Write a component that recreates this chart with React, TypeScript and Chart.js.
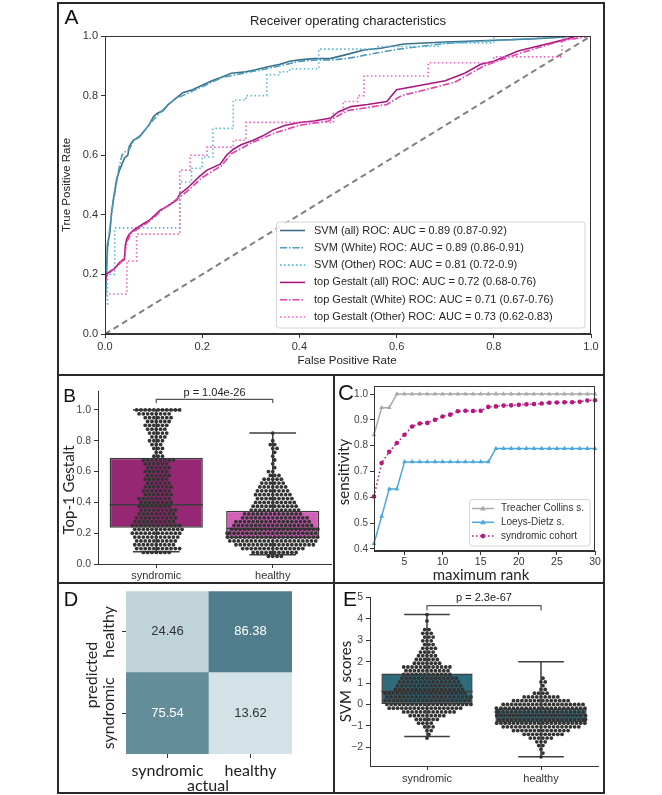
import React, { useEffect, useRef } from 'react';
import { Chart, registerables } from 'chart.js';

Chart.register(...registerables);

const SANS = '"Liberation Sans", Arial, sans-serif';
const HUM = 'Lato, "Liberation Sans", sans-serif';
Chart.defaults.font.family = SANS;

type Pt = [number, number];
type Bin = [number, number];

/* ---------------- Panel A : ROC curves (fpr, tpr) ---------------- */
const rocSvmAll: Pt[] = [[0,0],[0,0.09],[0.003,0.2],[0.005,0.3],[0.01,0.34],[0.013,0.4],[0.017,0.45],[0.02,0.48],[0.024,0.52],[0.03,0.55],[0.035,0.57],[0.04,0.59],[0.047,0.6],[0.05,0.63],[0.058,0.65],[0.07,0.66],[0.08,0.68],[0.09,0.7],[0.1,0.73],[0.107,0.74],[0.12,0.75],[0.13,0.77],[0.145,0.79],[0.16,0.81],[0.18,0.82],[0.2,0.835],[0.22,0.85],[0.237,0.86],[0.26,0.875],[0.29,0.88],[0.31,0.887],[0.333,0.896],[0.36,0.905],[0.38,0.915],[0.4,0.92],[0.43,0.924],[0.465,0.925],[0.49,0.935],[0.533,0.953],[0.57,0.96],[0.615,0.973],[0.7,0.98],[0.774,0.984],[0.877,0.99],[0.93,0.995],[0.96,1],[1,1]];
const rocSvmWhite: Pt[] = [[0,0],[0,0.1],[0.004,0.25],[0.008,0.33],[0.015,0.42],[0.02,0.47],[0.028,0.55],[0.035,0.6],[0.04,0.61],[0.05,0.62],[0.06,0.65],[0.075,0.67],[0.09,0.7],[0.1,0.72],[0.115,0.745],[0.13,0.77],[0.145,0.79],[0.16,0.8],[0.18,0.815],[0.2,0.83],[0.22,0.845],[0.24,0.86],[0.27,0.87],[0.3,0.88],[0.333,0.89],[0.36,0.9],[0.4,0.915],[0.44,0.92],[0.47,0.92],[0.5,0.925],[0.55,0.94],[0.6,0.955],[0.65,0.965],[0.7,0.975],[0.8,0.985],[0.9,0.993],[0.97,1],[1,1]];
const rocSvmOther: Pt[] = [[0,0],[0,0.1],[0.005,0.1],[0.005,0.2],[0.02,0.2],[0.02,0.356],[0.154,0.356],[0.154,0.51],[0.178,0.51],[0.178,0.556],[0.2,0.556],[0.2,0.594],[0.222,0.594],[0.222,0.69],[0.264,0.69],[0.264,0.785],[0.29,0.785],[0.29,0.8],[0.333,0.8],[0.333,0.87],[0.36,0.87],[0.36,0.88],[0.38,0.88],[0.38,0.89],[0.44,0.89],[0.44,0.956],[0.56,0.956],[0.56,0.965],[0.69,0.965],[0.69,0.977],[0.8,0.977],[0.8,1],[1,1]];
const rocGestaltAll: Pt[] = [[0,0],[0,0.18],[0.003,0.2],[0.01,0.21],[0.02,0.22],[0.03,0.24],[0.04,0.25],[0.042,0.3],[0.045,0.32],[0.05,0.335],[0.06,0.35],[0.079,0.37],[0.09,0.38],[0.1,0.395],[0.113,0.415],[0.13,0.43],[0.148,0.45],[0.154,0.47],[0.17,0.49],[0.195,0.53],[0.21,0.55],[0.237,0.57],[0.25,0.6],[0.264,0.62],[0.28,0.635],[0.305,0.65],[0.325,0.665],[0.346,0.685],[0.37,0.7],[0.4,0.71],[0.43,0.715],[0.465,0.725],[0.48,0.745],[0.506,0.763],[0.54,0.77],[0.58,0.78],[0.59,0.8],[0.6,0.82],[0.65,0.835],[0.7,0.85],[0.74,0.875],[0.773,0.905],[0.8,0.915],[0.85,0.95],[0.9,0.97],[0.944,0.987],[0.97,1],[1,1]];
const rocGestaltWhite: Pt[] = [[0,0],[0,0.17],[0.005,0.2],[0.02,0.22],[0.03,0.235],[0.04,0.26],[0.045,0.31],[0.055,0.34],[0.08,0.365],[0.1,0.39],[0.12,0.42],[0.15,0.455],[0.17,0.48],[0.2,0.525],[0.24,0.565],[0.26,0.605],[0.3,0.64],[0.35,0.675],[0.4,0.7],[0.46,0.715],[0.5,0.75],[0.58,0.77],[0.61,0.8],[0.66,0.82],[0.72,0.845],[0.78,0.9],[0.85,0.94],[0.92,0.975],[0.96,0.99],[1,1]];
const rocGestaltOther: Pt[] = [[0,0],[0,0.134],[0.045,0.134],[0.045,0.245],[0.065,0.245],[0.065,0.335],[0.154,0.335],[0.154,0.55],[0.175,0.55],[0.175,0.6],[0.21,0.6],[0.21,0.627],[0.264,0.627],[0.264,0.65],[0.29,0.65],[0.29,0.71],[0.47,0.71],[0.47,0.74],[0.49,0.74],[0.49,0.78],[0.52,0.78],[0.52,0.8],[0.533,0.8],[0.533,0.866],[0.665,0.866],[0.665,0.91],[0.8,0.91],[0.8,0.93],[0.94,0.93],[0.94,0.99],[0.97,0.99],[0.97,1],[1,1]];
const rocChance: Pt[] = [[0, 0], [1, 1]];
const rocLabels = [
  'SVM (all) ROC: AUC = 0.89 (0.87-0.92)',
  'SVM (White) ROC: AUC = 0.89 (0.86-0.91)',
  'SVM (Other) ROC: AUC = 0.81 (0.72-0.9)',
  'top Gestalt (all) ROC: AUC = 0.72 (0.68-0.76)',
  'top Gestalt (White) ROC: AUC = 0.71 (0.67-0.76)',
  'top Gestalt (Other) ROC: AUC = 0.73 (0.62-0.83)',
];
const rocTicks = [0, 0.2, 0.4, 0.6, 0.8, 1.0];

/* ---------------- Panel B : Top-1 Gestalt box + swarm ---------------- */
const groupNames = ['syndromic', 'healthy'];
const bQ1 = [0.235, 0.165];
const bMedian = [0.385, 0.23];
const bQ3 = [0.69, 0.345];
const bLow = [0.08, 0.06];
const bHigh = [1.0, 0.85];
const bTicks = [0, 0.2, 0.4, 0.6, 0.8, 1.0];
const bPText = 'p = 1.04e-26';
// [value, number of points]
const bSyndromicBins: Bin[] = [[1.0,11],[0.975,8],[0.95,7],[0.925,6],[0.9,6],[0.875,5],[0.85,5],[0.825,4],[0.8,4],[0.775,3],[0.75,3],[0.725,2],[0.7,3],[0.675,8],[0.65,6],[0.625,6],[0.6,6],[0.575,6],[0.55,6],[0.525,6],[0.5,7],[0.475,7],[0.45,7],[0.425,8],[0.4,8],[0.375,8],[0.35,9],[0.325,9],[0.3,10],[0.275,10],[0.25,12],[0.225,12],[0.2,12],[0.175,11],[0.15,10],[0.125,10],[0.1,11],[0.075,7]];
const bHealthyBins: Bin[] = [[0.85,1],[0.8,1],[0.775,2],[0.75,2],[0.725,1],[0.7,1],[0.675,1],[0.65,1],[0.625,1],[0.6,2],[0.575,3],[0.55,5],[0.525,6],[0.5,7],[0.475,8],[0.45,9],[0.425,9],[0.4,10],[0.375,11],[0.35,12],[0.325,14],[0.3,16],[0.275,18],[0.25,19],[0.225,21],[0.2,22],[0.175,22],[0.15,21],[0.125,19],[0.1,15],[0.075,11],[0.05,4]];

/* ---------------- Panel C : sensitivity by maximum rank ---------------- */
const cRanks = [1,2,3,4,5,6,7,8,9,10,11,12,13,14,15,16,17,18,19,20,21,22,23,24,25,26,27,28,29,30];
const cTreacher = [0.842,0.947,0.947,1,1,1,1,1,1,1,1,1,1,1,1,1,1,1,1,1,1,1,1,1,1,1,1,1,1,1];
const cLoeys = [0.421,0.526,0.632,0.632,0.737,0.737,0.737,0.737,0.737,0.737,0.737,0.737,0.737,0.737,0.737,0.737,0.789,0.789,0.789,0.789,0.789,0.789,0.789,0.789,0.789,0.789,0.789,0.789,0.789,0.789];
const cCohort = [0.603,0.733,0.776,0.81,0.842,0.874,0.886,0.888,0.9,0.913,0.92,0.933,0.935,0.934,0.935,0.95,0.952,0.955,0.956,0.958,0.96,0.961,0.963,0.966,0.967,0.968,0.968,0.97,0.975,0.976];
const cLabels = ['Treacher Collins s.', 'Loeys-Dietz s.', 'syndromic cohort'];
const cXTicks = [5, 10, 15, 20, 25, 30];
const cYTicks = [0.4, 0.5, 0.6, 0.7, 0.8, 0.9, 1.0];

/* ---------------- Panel D : confusion matrix (%) ---------------- */
const dActual = ['syndromic', 'healthy'];
const dPredicted = ['syndromic', 'healthy']; // bottom row, top row
const dPredSyndromic = [75.54, 13.62];
const dPredHealthy = [24.46, 86.38];

/* ---------------- Panel E : SVM scores box + swarm ---------------- */
const eQ1 = [0.0, -0.85];
const eMedian = [0.6, -0.5];
const eQ3 = [1.45, -0.2];
const eLow = [-1.5, -2.45];
const eHigh = [4.2, 2.0];
const eTicks = [-2, -1, 0, 1, 2, 3, 4, 5];
const ePText = 'p = 2.3e-67';
const eSyndromicBins: Bin[] = [[4.2,1],[3.9,1],[3.5,2],[3.325,3],[3.15,3],[2.975,3],[2.8,3],[2.625,4],[2.45,4],[2.275,5],[2.1,6],[1.925,7],[1.75,12],[1.575,11],[1.4,12],[1.225,14],[1.05,15],[0.875,16],[0.7,17],[0.525,20],[0.35,21],[0.175,21],[0.0,21],[-0.175,18],[-0.35,13],[-0.525,9],[-0.7,6],[-0.875,4],[-1.05,3],[-1.225,2],[-1.4,1],[-1.575,1]];
const eHealthyBins: Bin[] = [[1.225,1],[1.05,2],[0.875,1],[0.7,2],[0.525,4],[0.35,9],[0.175,14],[0.0,20],[-0.175,22],[-0.35,22],[-0.525,22],[-0.7,22],[-0.875,22],[-1.05,19],[-1.225,14],[-1.4,10],[-1.575,6],[-1.75,3],[-1.925,2],[-2.1,1],[-2.275,1],[-2.45,1]];

/* ---------------- helpers ---------------- */
function drawText(ctx: any, t: string, x: number, y: number, font: string, color = '#222', rot = 0, align = 'center') {
  ctx.save();
  ctx.translate(x, y);
  if (rot) ctx.rotate(rot);
  ctx.font = font;
  ctx.fillStyle = color;
  ctx.textAlign = align;
  ctx.textBaseline = 'middle';
  ctx.fillText(t, 0, 0);
  ctx.restore();
}

function line(ctx: any, x1: number, y1: number, x2: number, y2: number) {
  ctx.beginPath();
  ctx.moveTo(x1, y1);
  ctx.lineTo(x2, y2);
  ctx.stroke();
}

function roundBox(ctx: any, x: number, y: number, w: number, h: number, r: number) {
  ctx.beginPath();
  ctx.moveTo(x + r, y);
  ctx.lineTo(x + w - r, y);
  ctx.arcTo(x + w, y, x + w, y + r, r);
  ctx.lineTo(x + w, y + h - r);
  ctx.arcTo(x + w, y + h, x + w - r, y + h, r);
  ctx.lineTo(x + r, y + h);
  ctx.arcTo(x, y + h, x, y + h - r, r);
  ctx.lineTo(x, y + r);
  ctx.arcTo(x, y, x + r, y, r);
  ctx.closePath();
}

function frameRect(ctx: any, ca: any) {
  ctx.save();
  ctx.strokeStyle = '#333';
  ctx.lineWidth = 1;
  ctx.strokeRect(Math.round(ca.left) + 0.5, Math.round(ca.top) + 0.5, Math.round(ca.right - ca.left) - 1, Math.round(ca.bottom - ca.top) - 1);
  ctx.restore();
}

function expandBins(bins: Bin[]) {
  const out: number[] = [];
  bins.forEach(([v, n]) => { for (let i = 0; i < n; i++) out.push(v); });
  return out;
}

function beeswarm(values: number[], center: number, xs: any, ys: any, d: number, maxHalf: number) {
  const cx = xs.getPixelForValue(center);
  const sorted = [...values].sort((a, b) => a - b);
  const placed: { x: number; y: number }[] = [];
  const out: { x: number; y: number }[] = [];
  for (const v of sorted) {
    const py = ys.getPixelForValue(v);
    const near = placed.filter((p) => Math.abs(p.y - py) < d);
    const cands = [0];
    for (const p of near) {
      const dy = p.y - py;
      const dx = Math.sqrt(Math.max(d * d - dy * dy, 0));
      cands.push(p.x + dx, p.x - dx);
    }
    cands.sort((a, b) => Math.abs(a) - Math.abs(b));
    let chosen = cands[cands.length - 1];
    for (const c of cands) {
      if (near.every((p) => (p.x - c) * (p.x - c) + (p.y - py) * (p.y - py) >= d * d - 1e-6)) { chosen = c; break; }
    }
    if (chosen > maxHalf) chosen = maxHalf;
    if (chosen < -maxHalf) chosen = -maxHalf;
    placed.push({ x: chosen, y: py });
    out.push({ x: xs.getValueForPixel(cx + chosen), y: v });
  }
  return out;
}

const tickGrid = { drawOnChartArea: false, drawTicks: true, tickLength: 4, color: '#333', lineWidth: 1 };
const axisBorder = { display: true, color: '#333', width: 1 };
const baseOpts = { responsive: false, animation: false as const, devicePixelRatio: 1, events: [] as any[] };
const noPlugins = { legend: { display: false }, tooltip: { enabled: false } };

/* ---------------- Panel A ---------------- */
const rocSeries = [rocSvmAll, rocSvmWhite, rocSvmOther, rocGestaltAll, rocGestaltWhite, rocGestaltOther];
const rocColors = ['#3b7089', '#4e9cbc', '#5bb6d6', '#a6197e', '#e040a9', '#f25cc6'];
const rocDashes = [[], [7, 2, 1.5, 2], [1.5, 2.5], [], [7, 2, 1.5, 2], [1.5, 2.5]];

function buildA(canvas: HTMLCanvasElement) {
  const datasets: any[] = rocSeries.map((s, i) => ({
    label: rocLabels[i],
    data: s.map(([x, y]) => ({ x, y })),
    borderColor: rocColors[i],
    borderDash: rocDashes[i],
    borderWidth: 1.6,
    pointRadius: 0,
    fill: false,
    tension: 0,
    order: -i,
  }));
  datasets.push({
    label: 'chance',
    data: rocChance.map(([x, y]) => ({ x, y })),
    borderColor: '#808080',
    borderDash: [6, 4],
    borderWidth: 2,
    pointRadius: 0,
    order: 5,
  });
  return new Chart(canvas, {
    type: 'line',
    data: { datasets },
    options: {
      ...baseOpts,
      layout: { padding: { left: 0, top: 32, right: 12, bottom: 0 } },
      plugins: noPlugins,
      scales: {
        x: {
          type: 'linear', min: 0, max: 1,
          afterBuildTicks: (s: any) => { s.ticks = rocTicks.map((v) => ({ value: v })); },
          afterFit: (s: any) => { s.height = 40; },
          ticks: { font: { size: 11 }, color: '#333', padding: 2.5, autoSkip: false, maxRotation: 0, callback: (v: any) => Number(v).toFixed(1) },
          grid: tickGrid, border: axisBorder,
        },
        y: {
          type: 'linear', min: 0, max: 1,
          afterBuildTicks: (s: any) => { s.ticks = rocTicks.map((v) => ({ value: v })); },
          afterFit: (s: any) => { s.width = 46; },
          ticks: { font: { size: 11 }, color: '#333', padding: 3, autoSkip: false, callback: (v: any) => Number(v).toFixed(1) },
          grid: tickGrid, border: axisBorder,
        },
      },
    } as any,
    plugins: [{
      id: 'decorA',
      afterDatasetsDraw(chart: any) {
        const { ctx } = chart;
        frameRect(ctx, chart.chartArea);
        ctx.save();
        roundBox(ctx, 217.5, 218, 308.5, 106, 3);
        ctx.fillStyle = 'rgba(255,255,255,0.88)';
        ctx.fill();
        ctx.strokeStyle = '#d4d4d4';
        ctx.lineWidth = 1;
        ctx.stroke();
        for (let i = 0; i < rocLabels.length; i++) {
          const y = 226.5 + i * 17.3;
          ctx.strokeStyle = rocColors[i];
          ctx.lineWidth = 1.6;
          ctx.setLineDash(rocDashes[i]);
          line(ctx, 221, y, 246, y);
          ctx.setLineDash([]);
          drawText(ctx, rocLabels[i], 255, y, '11px ' + SANS, '#262626', 0, 'left');
        }
        ctx.restore();
      },
      afterDraw(chart: any) {
        const { ctx } = chart;
        drawText(ctx, 'A', 12.5, 14, '21px ' + SANS, '#111');
        drawText(ctx, 'Receiver operating characteristics', 289, 17, '13px ' + SANS, '#222');
        drawText(ctx, 'False Positive Rate', 288, 357, '11.5px ' + SANS, '#222');
        drawText(ctx, 'True Positive Rate', 8, 181, '11.5px ' + SANS, '#222', -Math.PI / 2);
      },
    }],
  });
}

/* ---------------- Panels B & E (box + swarm) ---------------- */
function buildBoxSwarm(canvas: HTMLCanvasElement, p: any) {
  const chart: any = new Chart(canvas, {
    type: 'bar',
    data: {
      datasets: [
        {
          type: 'bar',
          label: 'box',
          data: groupNames.map((_, i) => ({ x: i, y: [p.q1[i], p.q3[i]] })),
          backgroundColor: p.colors,
          borderColor: '#3d3d3d',
          borderWidth: 1.5,
          borderSkipped: false,
          categoryPercentage: 1,
          barPercentage: 0.8,
          order: 2,
        },
        { type: 'scatter', label: groupNames[0], data: [], backgroundColor: '#333', pointRadius: 1.9, pointBorderWidth: 0, order: 1, clip: false },
        { type: 'scatter', label: groupNames[1], data: [], backgroundColor: '#333', pointRadius: 1.9, pointBorderWidth: 0, order: 1, clip: false },
      ],
    },
    options: {
      ...baseOpts,
      layout: { padding: { left: 0, top: p.padTop, right: p.padRight, bottom: 0 } },
      plugins: noPlugins,
      scales: {
        x: {
          type: 'linear', min: -0.5, max: 1.5, offset: false,
          afterBuildTicks: (s: any) => { s.ticks = groupNames.map((_, i) => ({ value: i })); },
          afterFit: (s: any) => { s.height = p.xHeight; },
          ticks: { font: { size: 11 }, color: '#333', padding: p.xTickPad, autoSkip: false, maxRotation: 0, callback: (v: any) => groupNames[v] },
          grid: { ...tickGrid, offset: false }, border: axisBorder,
        },
        y: {
          type: 'linear', min: p.yMin, max: p.yMax,
          afterBuildTicks: (s: any) => { s.ticks = p.yTicks.map((v: number) => ({ value: v })); },
          afterFit: (s: any) => { s.width = p.yWidth; },
          ticks: { font: { size: 10.5 }, color: '#444', padding: 3, autoSkip: false, callback: p.yFmt },
          grid: tickGrid, border: axisBorder,
        },
      },
    } as any,
    plugins: [{
      id: 'boxParts',
      afterDatasetDraw(ch: any, args: any) {
        if (args.index !== 0) return;
        const { ctx } = ch;
        const ys = ch.scales.y;
        const meta = ch.getDatasetMeta(0);
        ctx.save();
        ctx.strokeStyle = '#3d3d3d';
        ctx.lineWidth = 1.5;
        meta.data.forEach((el: any, i: number) => {
          const cx = el.x;
          const half = el.width / 2;
          line(ctx, cx - half, ys.getPixelForValue(p.med[i]), cx + half, ys.getPixelForValue(p.med[i]));
          line(ctx, cx, ys.getPixelForValue(p.q3[i]), cx, ys.getPixelForValue(p.hi[i]));
          line(ctx, cx, ys.getPixelForValue(p.q1[i]), cx, ys.getPixelForValue(p.lo[i]));
          line(ctx, cx - half / 2, ys.getPixelForValue(p.hi[i]), cx + half / 2, ys.getPixelForValue(p.hi[i]));
          line(ctx, cx - half / 2, ys.getPixelForValue(p.lo[i]), cx + half / 2, ys.getPixelForValue(p.lo[i]));
        });
        ctx.restore();
      },
      afterDraw(ch: any) {
        const { ctx } = ch;
        const xs = ch.scales.x;
        const ys = ch.scales.y;
        const x0 = xs.getPixelForValue(0);
        const x1 = xs.getPixelForValue(1);
        const yt = ys.getPixelForValue(p.bracketTop);
        const yb = ys.getPixelForValue(p.bracketEnd);
        ctx.save();
        ctx.strokeStyle = '#555';
        ctx.lineWidth = 1.2;
        ctx.beginPath();
        ctx.moveTo(x0, yb);
        ctx.lineTo(x0, yt);
        ctx.lineTo(x1, yt);
        ctx.lineTo(x1, yb);
        ctx.stroke();
        ctx.restore();
        drawText(ctx, p.pText, (x0 + x1) / 2, yt - p.pGap, '11px ' + SANS, '#222');
        drawText(ctx, p.letter, p.letterX, p.letterY, p.letterFont, '#111');
        drawText(ctx, p.yTitle, p.yTitleX, p.yTitleY, p.yTitleFont, '#222', -Math.PI / 2);
      },
    }],
  });
  const xs = chart.scales.x;
  const ys = chart.scales.y;
  const meta = chart.getDatasetMeta(0);
  const maxHalf = meta.data[0] ? meta.data[0].width / 2 - 1 : 45;
  chart.data.datasets[1].data = beeswarm(expandBins(p.bins[0]), 0, xs, ys, p.dotGap, maxHalf);
  chart.data.datasets[2].data = beeswarm(expandBins(p.bins[1]), 1, xs, ys, p.dotGap, maxHalf);
  chart.update();
  return chart;
}

function buildB(canvas: HTMLCanvasElement) {
  return buildBoxSwarm(canvas, {
    q1: bQ1, med: bMedian, q3: bQ3, lo: bLow, hi: bHigh,
    colors: ['#962873', '#d25fb8'],
    bins: [bSyndromicBins, bHealthyBins], dotGap: 4.3,
    yMin: 0, yMax: 1.123, yTicks: bTicks, yFmt: (v: any) => Number(v).toFixed(1),
    padTop: 15, padRight: 8, yWidth: 39, xHeight: 18, xTickPad: 1.5,
    bracketTop: 1.068, bracketEnd: 1.045, pText: bPText, pGap: 7,
    letter: 'B', letterX: 10.5, letterY: 20.5, letterFont: '19px ' + SANS,
    yTitle: 'Top-1 Gestalt', yTitleX: 10, yTitleY: 114, yTitleFont: '15px ' + HUM,
  });
}

function buildE(canvas: HTMLCanvasElement) {
  return buildBoxSwarm(canvas, {
    q1: eQ1, med: eMedian, q3: eQ3, lo: eLow, hi: eHigh,
    colors: ['#2e6b7b', '#3a7888'],
    bins: [eSyndromicBins, eHealthyBins], dotGap: 4.2,
    yMin: -2.88, yMax: 5, yTicks: eTicks, yFmt: (v: any) => (Number(v) < 0 ? '\u2212' + Math.abs(Number(v)) : String(v)),
    padTop: 13.5, padRight: 7, yWidth: 35, xHeight: 26, xTickPad: 2,
    bracketTop: 4.62, bracketEnd: 4.39, pText: ePText, pGap: 7.5,
    letter: 'E', letterX: 15, letterY: 16, letterFont: '21px ' + SANS,
    yTitle: 'SVM  scores', yTitleX: 11, yTitleY: 97.5, yTitleFont: '15px ' + HUM,
  });
}

/* ---------------- Panel C ---------------- */
const cColors = ['#a9a9a9', '#4aa6dc', '#b3197f'];
const cStyles = ['triangle', 'triangle', 'circle'];
const cDashes = [[], [], [1.5, 2.5]];

function drawMarker(ctx: any, style: string, x: number, y: number, r: number, color: string) {
  ctx.save();
  ctx.fillStyle = color;
  ctx.beginPath();
  if (style === 'triangle') {
    ctx.moveTo(x, y - r * 1.1);
    ctx.lineTo(x + r, y + r * 0.7);
    ctx.lineTo(x - r, y + r * 0.7);
    ctx.closePath();
  } else {
    ctx.arc(x, y, r, 0, Math.PI * 2);
  }
  ctx.fill();
  ctx.restore();
}

function buildC(canvas: HTMLCanvasElement) {
  const series = [cTreacher, cLoeys, cCohort];
  return new Chart(canvas, {
    type: 'line',
    data: {
      datasets: series.map((s, k) => ({
        label: cLabels[k],
        data: cRanks.map((r, i) => ({ x: r, y: s[i] })),
        borderColor: cColors[k],
        backgroundColor: cColors[k],
        borderDash: cDashes[k],
        borderWidth: 1.5,
        pointStyle: cStyles[k],
        pointRadius: k === 2 ? 2.3 : 2.8,
        pointBorderWidth: 0,
        tension: 0,
        clip: false,
      })),
    },
    options: {
      ...baseOpts,
      layout: { padding: { left: 0, top: 10, right: 10, bottom: 0 } },
      plugins: noPlugins,
      scales: {
        x: {
          type: 'linear', min: 1, max: 30,
          afterBuildTicks: (s: any) => { s.ticks = cXTicks.map((v) => ({ value: v })); },
          afterFit: (s: any) => { s.height = 31; },
          ticks: { font: { size: 10.5 }, color: '#333', padding: 1, autoSkip: false, maxRotation: 0 },
          grid: tickGrid, border: axisBorder,
        },
        y: {
          type: 'linear', min: 0.392, max: 1.031,
          afterBuildTicks: (s: any) => { s.ticks = cYTicks.map((v) => ({ value: v })); },
          afterFit: (s: any) => { s.width = 39; },
          ticks: { font: { size: 10 }, color: '#444', padding: 2, autoSkip: false, callback: (v: any) => Number(v).toFixed(1) },
          grid: tickGrid, border: axisBorder,
        },
      },
    } as any,
    plugins: [{
      id: 'decorC',
      afterDatasetsDraw(chart: any) {
        const { ctx } = chart;
        frameRect(ctx, chart.chartArea);
        ctx.save();
        roundBox(ctx, 134.5, 123.5, 120.5, 46.5, 3);
        ctx.fillStyle = 'rgba(255,255,255,0.88)';
        ctx.fill();
        ctx.strokeStyle = '#d4d4d4';
        ctx.lineWidth = 1;
        ctx.stroke();
        for (let k = 0; k < cLabels.length; k++) {
          const y = 132.5 + k * 13.8;
          ctx.strokeStyle = cColors[k];
          ctx.lineWidth = 1.5;
          ctx.setLineDash(cDashes[k]);
          line(ctx, 137, y, 159, y);
          ctx.setLineDash([]);
          drawMarker(ctx, cStyles[k], 148, y, k === 2 ? 2.3 : 2.8, cColors[k]);
          drawText(ctx, cLabels[k], 166, y, '10px ' + SANS, '#333', 0, 'left');
        }
        ctx.restore();
      },
      afterDraw(chart: any) {
        const { ctx } = chart;
        drawText(ctx, 'C', 11, 17.5, '22px ' + SANS, '#111');
        drawText(ctx, 'maximum rank', 146, 199, '15px ' + HUM, '#222');
        drawText(ctx, 'sensitivity', 9, 96, '15px ' + HUM, '#222', -Math.PI / 2);
      },
    }],
  });
}

/* ---------------- Panel D ---------------- */
const dRows = [dPredSyndromic, dPredHealthy];
const dAll = [...dPredSyndromic, ...dPredHealthy];
const dMin = Math.min(...dAll);
const dMax = Math.max(...dAll);
const heatLight = [211, 226, 231];
const heatDark = [81, 126, 140];
function heatT(v: number) { return (v - dMin) / (dMax - dMin); }
function heatColor(v: number) {
  const t = heatT(v);
  const c = heatLight.map((a, i) => Math.round(a + (heatDark[i] - a) * t));
  return `rgb(${c[0]},${c[1]},${c[2]})`;
}

function buildD(canvas: HTMLCanvasElement) {
  return new Chart(canvas, {
    type: 'bar',
    data: {
      labels: dActual,
      datasets: dPredicted.map((name, r) => ({
        label: name,
        data: dActual.map(() => [r, r + 1]),
        backgroundColor: dRows[r].map(heatColor),
        borderWidth: 0,
        grouped: false,
        categoryPercentage: 1,
        barPercentage: 1,
      })),
    },
    options: {
      ...baseOpts,
      layout: { padding: { left: 0, top: 5, right: 41, bottom: 0 } },
      plugins: noPlugins,
      scales: {
        x: {
          type: 'category',
          afterFit: (s: any) => { s.height = 38; },
          ticks: { font: { size: 16, family: HUM }, color: '#222', padding: 3, autoSkip: false, maxRotation: 0 },
          grid: { ...tickGrid, offset: false }, border: { display: false },
        },
        y: {
          type: 'linear', min: 0, max: 2,
          afterBuildTicks: (s: any) => { s.ticks = dPredicted.map((_, r) => ({ value: r + 0.5 })); },
          afterFit: (s: any) => { s.width = 67; },
          ticks: { display: true, padding: 0, callback: () => '' },
          grid: tickGrid, border: { display: false },
        },
      },
    } as any,
    plugins: [{
      id: 'decorD',
      afterDatasetsDraw(chart: any) {
        const { ctx } = chart;
        dPredicted.forEach((_, r) => {
          const meta = chart.getDatasetMeta(r);
          meta.data.forEach((el: any, i: number) => {
            const v = dRows[r][i];
            drawText(ctx, v.toFixed(2), el.x, (el.y + el.base) / 2, '13px ' + SANS, heatT(v) > 0.5 ? '#ffffff' : '#333333');
          });
        });
      },
      afterDraw(chart: any) {
        const { ctx } = chart;
        const ys = chart.scales.y;
        drawText(ctx, 'D', 12, 16, '20px ' + SANS, '#111');
        dPredicted.forEach((name, r) => {
          drawText(ctx, name, 50, ys.getPixelForValue(r + 0.5), '16px ' + HUM, '#222', -Math.PI / 2);
        });
        drawText(ctx, 'predicted', 33, 91, '16px ' + HUM, '#222', -Math.PI / 2);
        drawText(ctx, 'actual', 149, 202, '16px ' + HUM, '#222');
      },
    }],
  });
}

/* ---------------- layout ---------------- */
function ChartCanvas(props: { left: number; top: number; width: number; height: number; build: (c: HTMLCanvasElement) => any }) {
  const ref = useRef<HTMLCanvasElement | null>(null);
  useEffect(() => {
    const chart = props.build(ref.current as HTMLCanvasElement);
    return () => chart.destroy();
  }, []);
  return (
    <canvas
      ref={ref}
      width={props.width}
      height={props.height}
      style={{ position: 'absolute', left: props.left, top: props.top, width: props.width, height: props.height }}
    />
  );
}

const FRAME = '#2a2a2a';
function Bar(props: { l: number; t: number; w: number; h: number }) {
  return <div style={{ position: 'absolute', left: props.l, top: props.t, width: props.w, height: props.h, background: FRAME }} />;
}

export default function App() {
  return (
    <div style={{ position: 'absolute', left: 0, top: 0, width: 662, height: 795, background: '#fff', overflow: 'hidden' }}>
      <Bar l={57} t={2} w={548} h={2} />
      <Bar l={57} t={792} w={548} h={2} />
      <Bar l={57} t={2} w={2} h={792} />
      <Bar l={603} t={2} w={2} h={792} />
      <Bar l={57} t={374} w={548} h={2} />
      <Bar l={57} t={582} w={548} h={2} />
      <Bar l={333} t={374} w={2} h={420} />
      <ChartCanvas left={59} top={4} width={544} height={370} build={buildA} />
      <ChartCanvas left={59} top={376} width={280} height={206} build={buildB} />
      <ChartCanvas left={335} top={376} width={270} height={206} build={buildC} />
      <ChartCanvas left={59} top={584} width={274} height={208} build={buildD} />
      <ChartCanvas left={335} top={584} width={270} height={208} build={buildE} />
    </div>
  );
}
